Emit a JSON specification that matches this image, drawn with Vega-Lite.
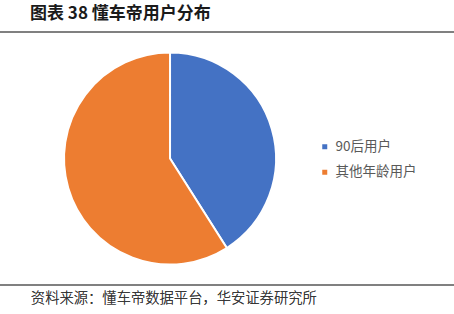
{
  "$schema": "https://vega.github.io/schema/vega-lite/v6.json",
  "width": 454,
  "height": 253,
  "autosize": {"type": "none"},
  "padding": {"top": 32, "bottom": 29, "left": 0, "right": 0},
  "background": "white",
  "config": {"view": {"stroke": null}, "font": "Noto Sans CJK SC"},
  "title": {
    "text": "图表 38 懂车帝用户分布",
    "anchor": "start",
    "orient": "top",
    "dx": 31,
    "offset": 8,
    "fontSize": 17,
    "fontWeight": "bold",
    "color": "#1a1a1a",
    "font": "Noto Sans CJK SC"
  },
  "data": {
    "values": [
      {"group": "90后用户", "share": 41, "order": 1},
      {"group": "其他年龄用户", "share": 59, "order": 2}
    ]
  },
  "layer": [
    {
      "mark": {"type": "arc", "radius": 106, "stroke": "white", "strokeWidth": 2},
      "encoding": {
        "theta": {"field": "share", "type": "quantitative", "stack": true},
        "order": {"field": "order", "type": "quantitative"},
        "x": {"datum": 37.45, "type": "quantitative", "scale": {"domain": [0, 100]}, "axis": null},
        "color": {
          "field": "group",
          "type": "nominal",
          "sort": ["90后用户", "其他年龄用户"],
          "scale": {"domain": ["90后用户", "其他年龄用户"], "range": ["#4472C4", "#ED7D31"]},
          "legend": {
            "title": null,
            "orient": "none",
            "legendX": 318,
            "legendY": 108,
            "symbolType": "square",
            "symbolSize": 25,
            "symbolStrokeWidth": 0,
            "labelFontSize": 13.5,
            "labelColor": "#595959",
            "labelFont": "Noto Sans CJK SC",
            "rowPadding": 10.5,
            "labelOffset": 4
          }
        }
      }
    },
    {
      "mark": {"type": "rule", "color": "#808080", "strokeWidth": 2},
      "encoding": {
        "y": {"datum": 1, "type": "quantitative", "scale": {"domain": [0, 1]}, "axis": null}
      }
    },
    {
      "mark": {"type": "rule", "color": "#808080", "strokeWidth": 2},
      "encoding": {
        "y": {"datum": 0, "type": "quantitative"}
      }
    },
    {
      "mark": {"type": "text", "align": "left", "baseline": "alphabetic", "fontSize": 14.3, "fontWeight": 300, "color": "#333333", "font": "Noto Sans CJK SC"},
      "encoding": {
        "x": {"datum": 6.8, "type": "quantitative"},
        "y": {"datum": -0.07, "type": "quantitative"},
        "text": {"value": "资料来源：懂车帝数据平台，华安证券研究所"}
      }
    }
  ]
}
